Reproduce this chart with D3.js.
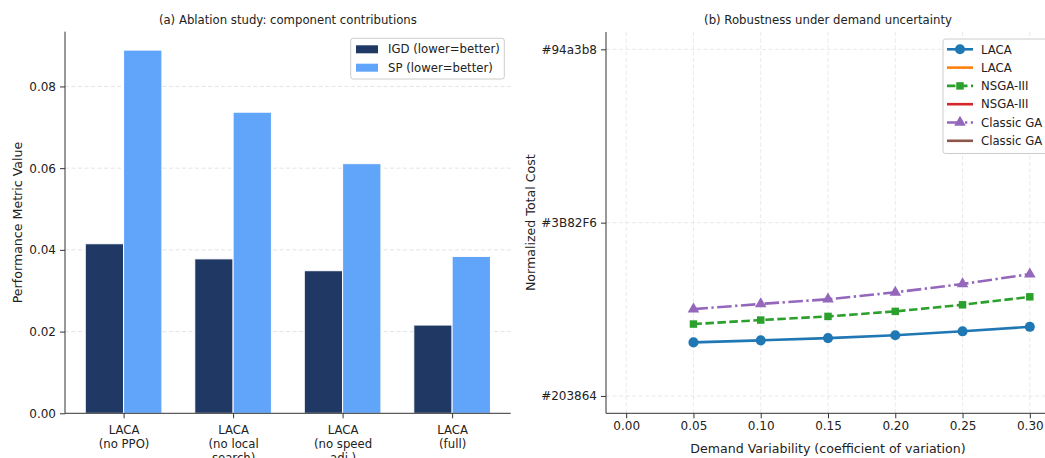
<!DOCTYPE html>
<html>
<head>
<meta charset="utf-8">
<script src="https://cdn.jsdelivr.net/npm/d3@7"></script>
<style>
  body { margin: 0; background: #fff; }
  svg { display: block; font-family: "DejaVu Sans", sans-serif; }
  .tick text { font-family: "DejaVu Sans", sans-serif; font-size: 12px; fill: #222; }
</style>
</head>
<body>
<div id="chart"></div>
<script>
// ---- data (a) ablation ----
const variants = ["LACA\n(no PPO)", "LACA\n(no local\nsearch)", "LACA\n(no speed\nadj.)", "LACA\n(full)"];
const igdValues = [0.0415, 0.0378, 0.0349, 0.0216];
const spValues = [0.0889, 0.0737, 0.0611, 0.0384];
const barSeries = ["IGD (lower=better)", "SP (lower=better)"];
const barColors = ["#203864", "#60A5FA"];

// ---- data (b) robustness ----
const variability = [0.05, 0.10, 0.15, 0.20, 0.25, 0.30];
const yCategories = ["#203864", "#3B82F6", "#94a3b8"];
const lacaCost = [0.309, 0.321, 0.334, 0.350, 0.373, 0.399];
const nsgaCost = [0.415, 0.438, 0.459, 0.488, 0.526, 0.572];
const gaCost = [0.501, 0.531, 0.558, 0.598, 0.646, 0.703];
const xTicks = [0.00, 0.05, 0.10, 0.15, 0.20, 0.25, 0.30];
const legendNames = ["LACA", "LACA", "NSGA-III", "NSGA-III", "Classic GA", "Classic GA"];

const W = 1045, H = 458;
const svg = d3.select("#chart").append("svg").attr("width", W).attr("height", H);

const FS = 11.7;      // titles, legends, category labels
const LFS = 12.6;     // axis labels
const spineColor = "#333";

// ================= (a) =================
const a = { left: 65, right: 510.7, top: 31.7, bottom: 413.3 };
const ax = d3.scaleLinear().domain([-0.535, 3.535]).range([a.left, a.right]);
const ay = d3.scaleLinear().domain([0, 0.0934]).range([a.bottom, a.top]);
const ga = svg.append("g");
const barW = 0.35;

// horizontal grid
ga.append("g").selectAll("line").data([0.02, 0.04, 0.06, 0.08]).join("line")
  .attr("x1", a.left).attr("x2", a.right)
  .attr("y1", d => ay(d)).attr("y2", d => ay(d))
  .attr("stroke", "#ddd").attr("stroke-width", 0.8).attr("stroke-dasharray", "4,2.5");

[igdValues, spValues].forEach((vals, s) => {
  ga.append("g").selectAll("rect").data(vals).join("rect")
    .attr("x", (d, i) => ax(i + (s === 0 ? -barW : 0)))
    .attr("width", ax(barW) - ax(0))
    .attr("y", d => ay(d))
    .attr("height", d => ay(0) - ay(d))
    .attr("fill", barColors[s])
    .attr("stroke", "#fff").attr("stroke-width", 1);
});

// axes
const ayAxis = ga.append("g").attr("transform", `translate(${a.left},0)`)
  .call(d3.axisLeft(ay).tickValues([0, 0.02, 0.04, 0.06, 0.08]).tickFormat(d3.format(".2f")).tickSize(5).tickPadding(4));
ayAxis.select(".domain").attr("d", `M0,${a.top}V${a.bottom}`);
const axAxis = ga.append("g").attr("transform", `translate(0,${a.bottom})`)
  .call(d3.axisBottom(ax).tickValues([0, 1, 2, 3]).tickFormat("").tickSize(5));
axAxis.select(".domain").attr("d", `M${a.left},0H${a.right}`);
[ayAxis, axAxis].forEach(g => {
  g.select(".domain").attr("stroke", spineColor);
  g.selectAll(".tick line").attr("stroke", spineColor);
});
axAxis.selectAll(".tick").each(function(d) {
  const t = d3.select(this).append("text").attr("fill", "#222").attr("text-anchor", "middle")
    .style("font-size", FS + "px").attr("y", 20.5);
  variants[d].split("\n").forEach((line, k) => {
    t.append("tspan").attr("x", 0).attr("dy", k === 0 ? 0 : 14).text(line);
  });
});

ga.append("text").attr("x", (a.left + a.right) / 2).attr("y", 23.5)
  .attr("text-anchor", "middle").style("font-size", FS + "px").attr("fill", "#222")
  .text("(a) Ablation study: component contributions");
ga.append("text").attr("transform", `translate(22,${(a.top + a.bottom) / 2}) rotate(-90)`)
  .attr("text-anchor", "middle").style("font-size", LFS + "px").attr("fill", "#222")
  .text("Performance Metric Value");

// legend (a)
const la = ga.append("g").attr("transform", "translate(350.7,38.3)");
la.append("rect").attr("width", 153.6).attr("height", 40.7).attr("rx", 2.5)
  .attr("fill", "#fff").attr("fill-opacity", 0.85).attr("stroke", "#ccc");
barSeries.forEach((name, i) => {
  const y = 11 + i * 18.4;
  la.append("rect").attr("x", 5.3).attr("y", y - 4).attr("width", 22).attr("height", 8).attr("fill", barColors[i]);
  la.append("text").attr("x", 37.3).attr("y", y + 4.2).style("font-size", FS + "px").attr("fill", "#222").text(name);
});

// ================= (b) =================
const b = { left: 606, right: 1050, top: 32, bottom: 413.3 };
const bx = d3.scaleLinear().domain([-0.015, 0.315]).range([b.left, b.right]);
const by = d3.scaleLinear().domain([-0.1, 2.1]).range([b.bottom, b.top]);
const gb = svg.append("g");

// grid
gb.append("g").selectAll("line").data(xTicks).join("line")
  .attr("x1", d => bx(d)).attr("x2", d => bx(d)).attr("y1", b.top).attr("y2", b.bottom)
  .attr("stroke", "#e3e3e3").attr("stroke-width", 0.8).attr("stroke-dasharray", "4,2.5");
gb.append("g").selectAll("line").data(yCategories.map((c, i) => i)).join("line")
  .attr("x1", b.left).attr("x2", b.right).attr("y1", d => by(d)).attr("y2", d => by(d))
  .attr("stroke", "#e3e3e3").attr("stroke-width", 0.8).attr("stroke-dasharray", "4,2.5");

const bxAxis = gb.append("g").attr("transform", `translate(0,${b.bottom})`)
  .call(d3.axisBottom(bx).tickValues(xTicks).tickFormat(d3.format(".2f")).tickSize(5).tickPadding(3.5));
bxAxis.select(".domain").attr("d", `M${b.left},0H${b.right}`);
const byAxis = gb.append("g").attr("transform", `translate(${b.left},0)`)
  .call(d3.axisLeft(by).tickValues([0, 1, 2]).tickFormat(i => yCategories[i]).tickSize(5).tickPadding(4));
byAxis.select(".domain").attr("d", `M0,${b.top}V${b.bottom}`);
[bxAxis, byAxis].forEach(g => {
  g.select(".domain").attr("stroke", spineColor);
  g.selectAll(".tick line").attr("stroke", spineColor);
});

const series = [
  { vals: lacaCost, color: "#1f77b4", dash: null, marker: "circle" },
  { vals: nsgaCost, color: "#2ca02c", dash: "8.5,3.5", marker: "square" },
  { vals: gaCost, color: "#9467bd", dash: "14.5,3.5,2.3,3.5", marker: "triangle" }
];
const line = d3.line().x((d, i) => bx(variability[i])).y(d => by(d));
const symbolFor = m => m === "circle" ? d3.symbolCircle : m === "square" ? d3.symbolSquare : d3.symbolTriangle;
const symbolSize = m => m === "circle" ? 80 : m === "square" ? 56 : 58;

series.slice().reverse().forEach(s => {
  gb.append("path").datum(s.vals).attr("d", line).attr("fill", "none")
    .attr("stroke", s.color).attr("stroke-width", 2.6)
    .attr("stroke-dasharray", s.dash);
  gb.append("g").selectAll("path").data(s.vals).join("path")
    .attr("transform", (d, i) => `translate(${bx(variability[i])},${by(d)})`)
    .attr("d", d3.symbol(symbolFor(s.marker), symbolSize(s.marker)))
    .attr("fill", s.color);
});

gb.append("text").attr("x", (b.left + b.right) / 2).attr("y", 23.5)
  .attr("text-anchor", "middle").style("font-size", FS + "px").attr("fill", "#222")
  .text("(b) Robustness under demand uncertainty");
gb.append("text").attr("x", (b.left + b.right) / 2).attr("y", 452.5)
  .attr("text-anchor", "middle").style("font-size", LFS + "px").attr("fill", "#222")
  .text("Demand Variability (coefficient of variation)");
gb.append("text").attr("transform", `translate(534.5,${(b.top + b.bottom) / 2}) rotate(-90)`)
  .attr("text-anchor", "middle").style("font-size", LFS + "px").attr("fill", "#222")
  .text("Normalized Total Cost");

// legend (b)
const legendStyles = [
  { color: "#1f77b4", dash: null, marker: "circle" },
  { color: "#ff7f0e", dash: null, marker: null },
  { color: "#2ca02c", dash: "8.5,3.5", marker: "square" },
  { color: "#d62728", dash: null, marker: null },
  { color: "#9467bd", dash: "14.5,3.5,2.3,3.5", marker: "triangle" },
  { color: "#8c564b", dash: null, marker: null }
];
const lb = gb.append("g").attr("transform", "translate(943,39)");
lb.append("rect").attr("width", 120).attr("height", 114.5).attr("rx", 2.5)
  .attr("fill", "#fff").attr("fill-opacity", 0.85).attr("stroke", "#ccc");
legendNames.forEach((name, i) => {
  const y = 10.3 + i * 18.3;
  const st = legendStyles[i];
  lb.append("line").attr("x1", 4).attr("x2", 30).attr("y1", y).attr("y2", y)
    .attr("stroke", st.color).attr("stroke-width", 2.6).attr("stroke-dasharray", st.dash);
  if (st.marker) {
    lb.append("path").attr("transform", `translate(17,${y})`)
      .attr("d", d3.symbol(symbolFor(st.marker), symbolSize(st.marker)))
      .attr("fill", st.color);
  }
  lb.append("text").attr("x", 38).attr("y", y + 4.2).style("font-size", FS + "px").attr("fill", "#222").text(name);
});
</script>
</body>
</html>
